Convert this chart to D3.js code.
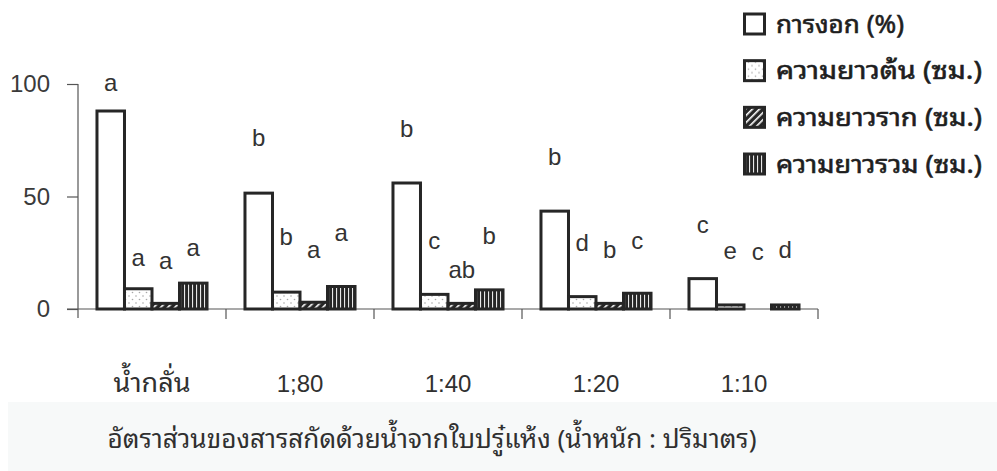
<!DOCTYPE html>
<html lang="th">
<head>
<meta charset="utf-8">
<script src="https://cdn.jsdelivr.net/npm/d3@7/dist/d3.min.js"></script>
<style>
  html, body { margin: 0; padding: 0; background: #ffffff; }
  svg { display: block; }
  .num { font-family: "Liberation Sans", Arial, sans-serif; }
  .thai { font-family: "Noto Sans Thai Looped", Loma, Garuda, Tahoma, "Noto Sans Thai", "Noto Sans", sans-serif; }
</style>
</head>
<body>
<svg id="chart" width="997" height="471"></svg>
<script>
// Water extract ratios of dried leaves (w : v)
const categories = ["น้ำกลั่น", "1;80", "1:40", "1:20", "1:10"];
const seriesNames = ["การงอก (%)", "ความยาวต้น (ซม.)", "ความยาวราก (ซม.)", "ความยาวรวม (ซม.)"];

// one array per series, one value per ratio
const germination = [88, 51.5, 56, 43.5, 13.5];
const shootLength = [9, 7.5, 6.5, 5.5, 1.8];
const rootLength  = [2.5, 3, 2.5, 2.5, 0];
const totalLength = [11.5, 10, 8.5, 7, 1.8];

// mean-separation letters per series and ratio
const germLetters  = ["a", "b", "b", "b", "c"];
const shootLetters = ["a", "b", "c", "d", "e"];
const rootLetters  = ["a", "a", "ab", "b", "c"];
const totalLetters = ["a", "a", "b", "c", "d"];

// height (in axis units) at which each letter is set
const germLetterAt  = [100.5, 76, 80, 67.6, 37];
const shootLetterAt = [22.7, 32, 30, 29.3, 25.5];
const rootLetterAt  = [21, 26.2, 17.3, 26.2, 25];
const totalLetterAt = [27.1, 33.8, 32.1, 29.9, 26.2];

const yTicks = [0, 50, 100];
const xTitle = "อัตราส่วนของสารสกัดด้วยน้ำจากใบปรู๋แห้ง (น้ำหนัก : ปริมาตร)";

const series = [
  { name: seriesNames[0], values: germination, letters: germLetters,  at: germLetterAt,  fill: "#ffffff" },
  { name: seriesNames[1], values: shootLength, letters: shootLetters, at: shootLetterAt, fill: "url(#dots)" },
  { name: seriesNames[2], values: rootLength,  letters: rootLetters,  at: rootLetterAt,  fill: "url(#diag)" },
  { name: seriesNames[3], values: totalLength, letters: totalLetters, at: totalLetterAt, fill: "url(#vert)" }
];

const svg = d3.select("#chart");
const ink = "#262626";

// faint page tint along the bottom
svg.append("rect").attr("x", 8).attr("y", 402).attr("width", 989).attr("height", 69).attr("fill", "#f7f9f9");

// fill patterns
const defs = svg.append("defs");
const dots = defs.append("pattern").attr("id", "dots").attr("patternUnits", "userSpaceOnUse")
  .attr("width", 7).attr("height", 7);
dots.append("rect").attr("width", 7).attr("height", 7).attr("fill", "#fff");
dots.append("circle").attr("cx", 2).attr("cy", 2).attr("r", 0.8).attr("fill", "#a8a8a8");
dots.append("circle").attr("cx", 5.5).attr("cy", 5.5).attr("r", 0.8).attr("fill", "#a8a8a8");

const diag = defs.append("pattern").attr("id", "diag").attr("patternUnits", "userSpaceOnUse")
  .attr("width", 5).attr("height", 5).attr("patternTransform", "rotate(45)");
diag.append("rect").attr("width", 5).attr("height", 5).attr("fill", ink);
diag.append("rect").attr("x", 0).attr("width", 1.6).attr("height", 5).attr("fill", "#fff");

const vert = defs.append("pattern").attr("id", "vert").attr("patternUnits", "userSpaceOnUse")
  .attr("width", 4).attr("height", 4);
vert.append("rect").attr("width", 4).attr("height", 4).attr("fill", ink);
vert.append("rect").attr("x", 2).attr("width", 1.1).attr("height", 4).attr("fill", "#e8e8e8");

// scales
const y = d3.scaleLinear().domain([0, 100]).range([309, 84]);
const x0 = d3.scaleBand().domain(categories).range([78, 818]).padding(0);
const x1 = d3.scaleBand().domain(d3.range(series.length)).range([0, x0.bandwidth()])
  .paddingInner(0).paddingOuter(0.69);

// y axis
const yAxis = svg.append("g").attr("transform", `translate(${x0.range()[0]},0)`)
  .call(d3.axisLeft(y).tickValues(yTicks).tickSize(11).tickPadding(17));
yAxis.select(".domain").remove();
yAxis.selectAll(".tick line").attr("stroke", "#555").attr("stroke-width", 1.2);
yAxis.selectAll(".tick text").attr("class", "num").attr("font-size", 24).attr("fill", "#3a3a3a");
svg.append("line").attr("x1", 78).attr("x2", 78).attr("y1", y(100)).attr("y2", y(0) + 9)
  .attr("stroke", "#555").attr("stroke-width", 1.2);

// x axis baseline with group separators
svg.append("line").attr("x1", 67).attr("x2", x0.range()[1]).attr("y1", y(0)).attr("y2", y(0))
  .attr("stroke", "#555").attr("stroke-width", 1.2);
const bounds = categories.map(c => x0(c) + x0.bandwidth());
svg.append("g").selectAll("line").data(bounds).join("line")
  .attr("x1", d => d).attr("x2", d => d).attr("y1", y(0)).attr("y2", y(0) + 10)
  .attr("stroke", "#555").attr("stroke-width", 1.2);

svg.append("g").selectAll("text").data(categories).join("text")
  .attr("class", (d, i) => i === 0 ? "thai" : "num")
  .attr("x", d => x0(d) + x0.bandwidth() / 2).attr("y", 392)
  .attr("text-anchor", "middle").attr("font-size", (d, i) => i === 0 ? 27 : 24).attr("fill", "#303030")
  .text(d => d);

// bars
const groups = svg.append("g").selectAll("g").data(categories).join("g")
  .attr("transform", d => `translate(${x0(d)},0)`);

groups.selectAll("rect").data((c, ci) => series.map((s, si) => ({ s, si, v: s.values[ci] })).filter(d => d.v > 0))
  .join("rect")
  .attr("x", d => x1(d.si)).attr("width", x1.bandwidth())
  .attr("y", d => y(d.v)).attr("height", d => y(0) - y(d.v))
  .attr("fill", d => d.s.fill).attr("stroke", ink).attr("stroke-width", 3);

groups.selectAll("text").data((c, ci) => series.map((s, si) => ({ si, t: s.letters[ci], at: s.at[ci] })))
  .join("text")
  .attr("class", "num")
  .attr("x", d => x1(d.si) + x1.bandwidth() / 2).attr("y", d => y(d.at))
  .attr("dy", "0.32em").attr("text-anchor", "middle")
  .attr("font-size", 24).attr("fill", "#333")
  .text(d => d.t);

// legend
const legend = svg.append("g").attr("transform", "translate(743,0)");
const rowY = d3.scalePoint().domain(d3.range(series.length)).range([24, 164]);
const items = legend.selectAll("g").data(series).join("g")
  .attr("transform", (d, i) => `translate(0,${rowY(i)})`);
items.append("rect").attr("x", 1.5).attr("y", -10).attr("width", 20).attr("height", 20)
  .attr("fill", d => d.fill).attr("stroke", ink).attr("stroke-width", 3);
items.append("text").attr("class", "thai").attr("x", 33).attr("dy", "0.35em")
  .attr("font-size", 25).attr("fill", "#1e1e1e")
  .attr("stroke", "#1e1e1e").attr("stroke-width", 0.6)
  .attr("textLength", (d, i) => [128, 206, 206, 206][i]).attr("lengthAdjust", "spacingAndGlyphs")
  .text(d => d.name);

// category axis title
svg.append("text").attr("class", "thai").attr("x", 432).attr("y", 448)
  .attr("text-anchor", "middle").attr("font-size", 26).attr("fill", "#303030")
  .attr("textLength", 649).attr("lengthAdjust", "spacingAndGlyphs")
  .text(xTitle);
</script>
</body>
</html>
